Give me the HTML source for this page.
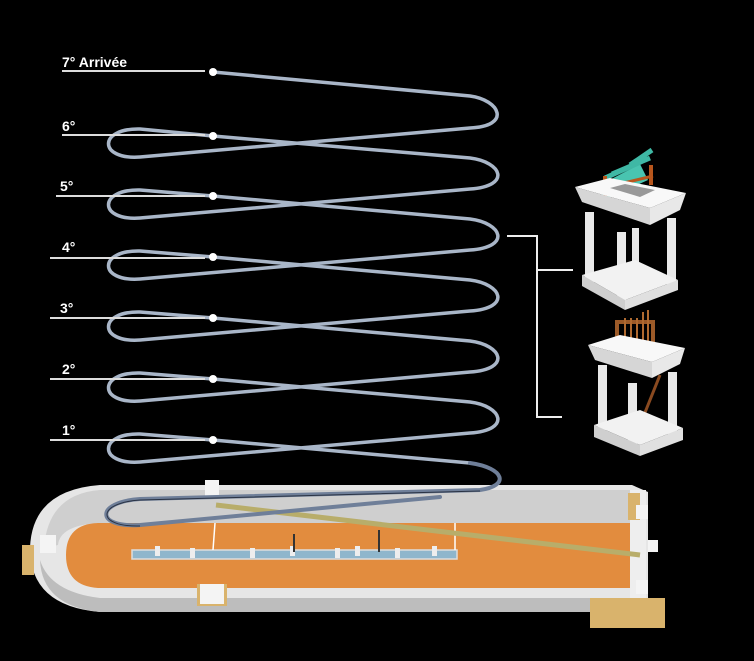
<!DOCTYPE html>
<html><head><meta charset="utf-8"><style>
html,body{margin:0;padding:0;background:#000;}
svg{display:block}
text{font-family:"Liberation Sans",sans-serif;font-weight:bold;fill:#fff;font-size:14px}
</style></head><body>
<svg width="754" height="661" viewBox="0 0 754 661" xmlns="http://www.w3.org/2000/svg">
<defs>
<linearGradient id="gs" x1="0" y1="0" x2="0" y2="1"><stop offset="0" stop-color="#fff"/><stop offset="1" stop-color="#bbb"/></linearGradient>
</defs>
<rect width="754" height="661" fill="#000"/>

<!-- circus -->
<g>
<path d="M100,485 L632,485 L648,492 L648,600 L632,612 L100,612 Q30,606 30,548 Q32,490 100,485 Z" fill="#e6e6e6"/>
<path d="M40,560 Q42,606 100,612 L632,612 L632,598 L100,598 Q50,592 40,560 Z" fill="#bdbdbd"/>
<path d="M100,490 L630,490 L630,523 L100,523 Q60,525 58,545 L44,548 Q48,494 100,490 Z" fill="#cfcfcf"/>
<path d="M98,523 L640,523 L640,588 L98,588 Q66,586 66,555 Q66,524 98,523 Z" fill="#e28c3e"/>
<rect x="630" y="490" width="16" height="112" fill="#eee"/>
<rect x="132" y="550" width="325" height="9" fill="#8fb6cc" stroke="#ddd" stroke-width="1.5"/>
<g fill="#eee"><rect x="155" y="546" width="5" height="10"/><rect x="190" y="548" width="5" height="10"/><rect x="250" y="548" width="5" height="10"/><rect x="290" y="546" width="5" height="10"/><rect x="335" y="548" width="5" height="10"/><rect x="355" y="546" width="5" height="10"/><rect x="395" y="548" width="5" height="10"/><rect x="432" y="546" width="5" height="10"/></g>
<line x1="215" y1="523" x2="213" y2="550" stroke="#fff" stroke-width="1.5"/>
<line x1="455" y1="523" x2="455" y2="550" stroke="#fff" stroke-width="1.5"/>
<line x1="294" y1="534" x2="294" y2="552" stroke="#333" stroke-width="2"/>
<line x1="379" y1="530" x2="379" y2="552" stroke="#333" stroke-width="2"/>
<g fill="#d9b36c"><rect x="22" y="545" width="12" height="30"/><rect x="197" y="584" width="30" height="22"/><rect x="590" y="598" width="75" height="30"/><rect x="628" y="493" width="12" height="27"/></g>
<g fill="#f4f4f4"><rect x="200" y="584" width="24" height="20"/><rect x="205" y="480" width="14" height="16"/><rect x="40" y="535" width="16" height="18"/><rect x="636" y="505" width="12" height="14"/><rect x="648" y="540" width="10" height="12"/><rect x="636" y="580" width="12" height="14"/></g>
</g>

<!-- olive bar -->
<line x1="216" y1="505" x2="640" y2="555" stroke="#b8ad6a" stroke-width="5"/>

<!-- helix -->
<path fill="none" stroke="#a9b6c8" stroke-width="3.5" stroke-linecap="round" d="
M213,72 L470,96 C500,100 512,126 470,128 L140,157 C98,160 98,128 140,129
L213,136 L470,158 C502,162 512,186 470,189 L140,218 C98,221 98,189 140,190
L213,196 L470,219 C502,223 512,247 470,250 L140,279 C98,282 98,250 140,251
L213,257 L470,280 C502,284 512,308 470,311 L140,340 C98,343 98,311 140,312
L213,318 L470,341 C502,345 512,369 470,372 L140,401 C98,404 98,372 140,373
L213,379 L470,402 C502,406 512,430 470,433 L140,462 C98,465 98,433 140,434
L213,440 L470,463"/>
<path fill="none" stroke="#6f7f99" stroke-width="4" stroke-linecap="round" d="M470,463 C505,468 510,486 480,490 L140,499 C95,502 95,528 140,525 L440,497"/>
<path fill="none" stroke="#2a3344" stroke-width="1" d="M480,491 L140,500 C96,503 96,527 140,526"/>

<!-- labels -->
<text x="62" y="67">7° Arrivée</text>
<text x="62" y="131">6°</text>
<text x="60" y="191">5°</text>
<text x="62" y="252">4°</text>
<text x="60" y="313">3°</text>
<text x="62" y="374">2°</text>
<text x="62" y="435">1°</text>
<g stroke="#ddd" stroke-width="2">
<line x1="62" y1="71" x2="205" y2="71"/>
<line x1="62" y1="135" x2="205" y2="135"/>
<line x1="56" y1="196" x2="205" y2="196"/>
<line x1="50" y1="258" x2="205" y2="258"/>
<line x1="50" y1="318" x2="205" y2="318"/>
<line x1="50" y1="379" x2="205" y2="379"/>
<line x1="50" y1="440" x2="205" y2="440"/>
</g>
<g fill="#fff"><circle cx="213" cy="72" r="4"/><circle cx="213" cy="136" r="4"/><circle cx="213" cy="196" r="4"/><circle cx="213" cy="257" r="4"/><circle cx="213" cy="318" r="4"/><circle cx="213" cy="379" r="4"/><circle cx="213" cy="440" r="4"/></g>

<!-- bracket -->
<path d="M507,236 L537,236 L537,417 L562,417 M537,270 L573,270" fill="none" stroke="#eee" stroke-width="2"/>

<!-- pavilion 1 -->
<g>
<path d="M598,186 L640,164 L648,180 L604,200 Z" fill="#49c4b0"/>
<path d="M605,178 L645,160 M612,174 L650,158 M630,165 L652,150" stroke="#3fb8a5" stroke-width="5"/>
<rect x="603" y="176" width="4" height="20" fill="#b8561c"/><rect x="649" y="165" width="4" height="20" fill="#b8561c"/>
<path d="M603,188 L653,176" stroke="#b8561c" stroke-width="3"/>
<path d="M575,187 L610,178 L686,193 L650,208 Z" fill="#f8f8f8"/>
<path d="M575,187 L650,208 L650,225 L582,202 Z" fill="#d6d6d6"/>
<path d="M650,208 L686,193 L680,210 L650,225 Z" fill="#e8e8e8"/>
<path d="M610,188 L625,184 L655,190 L640,197 Z" fill="#999"/>
<g fill="#e9e9e9"><rect x="585" y="212" width="9" height="70"/><rect x="617" y="232" width="9" height="68"/><rect x="667" y="218" width="9" height="72"/><rect x="632" y="228" width="7" height="50"/></g>
<path d="M582,275 L635,260 L678,280 L625,300 Z" fill="#f2f2f2"/>
<path d="M582,275 L625,300 L625,310 L582,286 Z" fill="#cfcfcf"/>
<path d="M625,300 L678,280 L678,290 L625,310 Z" fill="#e0e0e0"/>
</g>

<!-- pavilion 2 -->
<g>
<rect x="617" y="322" width="36" height="26" fill="none" stroke="#9c5a28" stroke-width="4"/>
<g stroke="#b06a30" stroke-width="2"><line x1="625" y1="318" x2="625" y2="352"/><line x1="631" y1="318" x2="631" y2="352"/><line x1="637" y1="318" x2="637" y2="352"/><line x1="643" y1="312" x2="643" y2="352"/><line x1="648" y1="310" x2="648" y2="352"/></g>
<path d="M588,345 L620,335 L685,348 L652,362 Z" fill="#f8f8f8"/>
<path d="M588,345 L652,362 L652,378 L595,360 Z" fill="#d6d6d6"/>
<path d="M652,362 L685,348 L680,364 L652,378 Z" fill="#e8e8e8"/>
<g fill="#e9e9e9"><rect x="598" y="365" width="9" height="65"/><rect x="628" y="383" width="9" height="62"/><rect x="668" y="372" width="9" height="65"/></g>
<path d="M640,425 L660,375" stroke="#8a4a20" stroke-width="3"/>
<path d="M594,425 L640,410 L683,428 L640,445 Z" fill="#f2f2f2"/>
<path d="M594,425 L640,445 L640,456 L594,437 Z" fill="#cfcfcf"/>
<path d="M640,445 L683,428 L683,440 L640,456 Z" fill="#e0e0e0"/>
</g>
</svg>
</body></html>
